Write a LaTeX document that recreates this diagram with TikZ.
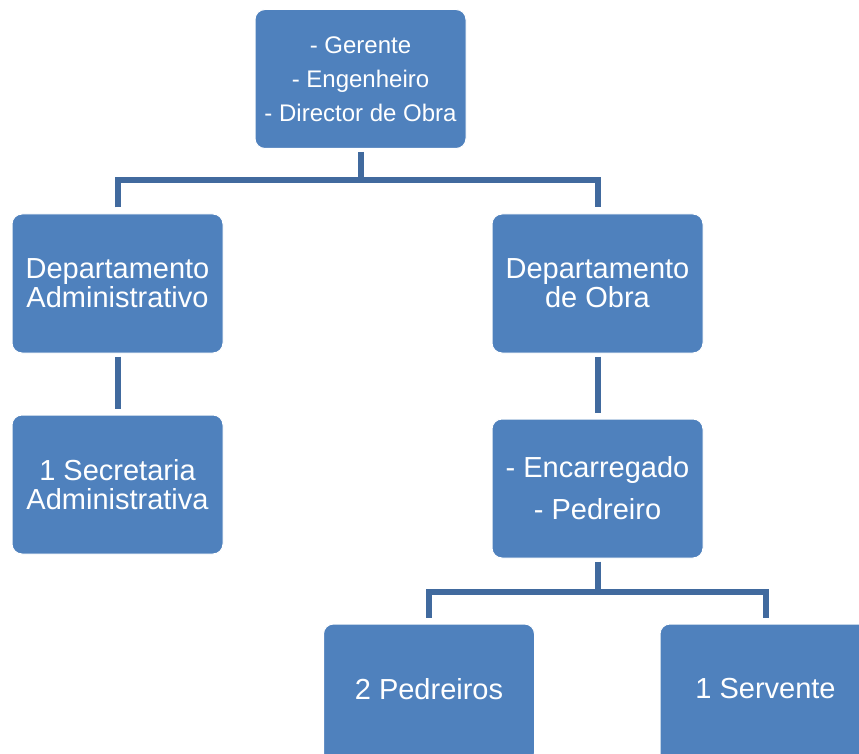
\documentclass[tikz,border=0pt]{standalone}
\usepackage{fontspec}
\setmainfont{Liberation Sans}
\definecolor{boxblue}{HTML}{4F81BD}
\definecolor{lineblue}{HTML}{416A9E}
\begin{document}
\begin{tikzpicture}[x=1pt,y=-1pt,
  orgbox/.style={rectangle, rounded corners=10pt, fill=boxblue, draw=white, line width=1pt,
    minimum width=211pt, minimum height=139pt, inner sep=0pt, align=center, text=white,
    font=\fontsize{29pt}{29pt}\selectfont},
  conn/.style={draw=lineblue, line width=6pt, line join=miter}]
\clip (0,0) rectangle (859,754);
\useasboundingbox (0,0) rectangle (859,754);
\fill[white] (0,0) rectangle (859,754);

\node[orgbox, font=\fontsize{24pt}{34pt}\selectfont] (top) at (360.5,79) {- Gerente\\- Engenheiro\\- Director de Obra};
\node[orgbox] (adm) at (117.5,283.5) {Departamento\\Administrativo};
\node[orgbox] (obra) at (597.5,283.5) {Departamento\\de Obra};
\node[orgbox] (sec) at (117.5,484.5) {1 Secretaria\\Administrativa};
\node[orgbox, font=\fontsize{29pt}{42pt}\selectfont] (enc) at (597.5,488.5) {- Encarregado\\- Pedreiro};
\node[orgbox] (ped) at (429,693.5) {\raisebox{10pt}{2 Pedreiros}};
\node[orgbox] (serv) at (765.5,693.5) {\raisebox{10pt}{1 Servente}};

\draw[conn] ([yshift=-3pt]top.south) -- ([yshift=-33pt]top.south);
\draw[conn] ([yshift=6pt]adm.north) |- ([yshift=33pt]obra.north) -- ([yshift=6pt]obra.north);
\draw[conn] ([yshift=-3pt]adm.south) -- ([yshift=6pt]sec.north);
\draw[conn] ([yshift=-3pt]obra.south) -- ([yshift=6pt]enc.north);
\draw[conn] ([yshift=-3pt]enc.south) -- ([yshift=-33pt]enc.south);
\draw[conn] ([yshift=6pt]ped.north) |- ([yshift=32pt]serv.north) -- ([yshift=6pt]serv.north);
\end{tikzpicture}
\end{document}
